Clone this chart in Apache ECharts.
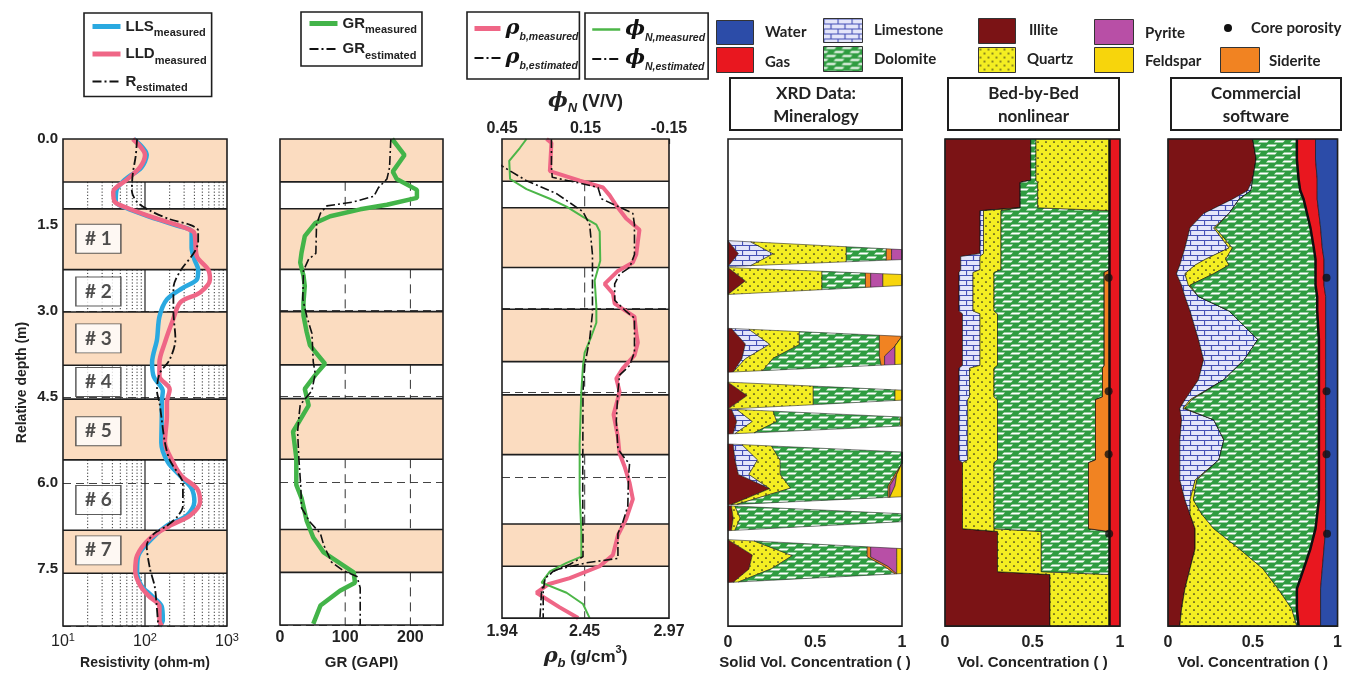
<!DOCTYPE html>
<html>
<head>
<meta charset="utf-8">
<script src="https://cdn.jsdelivr.net/npm/echarts@6/dist/echarts.min.js"></script>
<style>
  html, body { margin: 0; padding: 0; background: #ffffff; }
  #chart { width: 1345px; height: 675px; }
</style>
</head>
<body>
<div id="chart"></div>
<script>
// ---------------- depth axis and beds ----------------
const depthMax = 8.5;
const depthStep = 1.5;
const shadedBedTops    = [0.00, 1.22, 3.02, 4.54, 6.83];
const shadedBedBottoms = [0.75, 2.28, 3.95, 5.60, 7.58];
const bedNames = ['# 1', '# 2', '# 3', '# 4', '# 5', '# 6', '# 7'];
const bedLabelDepths = [1.74, 2.66, 3.48, 4.24, 5.10, 6.30, 7.18];
const bedLabelResistivity = 27;

// ---------------- tick labels and grid lines ----------------
const resistivityTicks = [10, 100, 1000];
const resistivityMinorGrid = [20, 30, 40, 50, 60, 70, 80, 90, 200, 300, 400, 500, 600, 700, 800, 900];
const resistivityMajorGrid = [100];
const grGrid = [100, 200];
const rhoTicks = [1.94, 2.45, 2.97];
const rhoGrid = [2.45];
const phiTicks = [0.45, 0.15, -0.15];
const fractionTicks = [0, 0.5, 1];

// ---------------- log curves: [depth (m), value] ----------------
const llsMeasured = [[0,73],[0.28,105],[0.5,90],[0.7,58],[0.89,45],[1.1,44],[1.2,58],[1.35,110],[1.5,230],[1.62,370],[1.9,370],[2.1,400],[2.28,445],[2.45,430],[2.6,290],[2.8,185],[3.1,150],[3.5,140],[3.9,122],[4.15,128],[4.4,165],[4.6,160],[4.83,160],[5.3,158],[5.64,190],[5.88,270],[6.1,370],[6.33,400],[6.57,325],[6.75,185],[6.97,122],[7.27,83],[7.55,80],[7.79,90],[7.97,120],[8.16,160],[8.4,165],[8.5,150]];
const lldMeasured = [[0,71],[0.28,100],[0.49,87],[0.71,60],[0.92,41],[1.1,43],[1.2,60],[1.35,115],[1.5,245],[1.62,390],[1.76,410],[2.05,430],[2.28,590],[2.45,620],[2.68,470],[2.85,270],[3.15,220],[3.55,175],[3.9,150],[4.14,150],[4.37,200],[4.6,185],[4.83,185],[5.29,175],[5.64,220],[5.88,280],[6.1,430],[6.33,470],[6.57,355],[6.75,200],[6.97,115],[7.27,80],[7.55,76],[7.79,87],[7.97,110],[8.16,150],[8.4,150],[8.5,160]];
const rEstimated = [[0,80],[0.3,77],[0.6,71],[0.9,69],[1.1,80],[1.25,115],[1.4,200],[1.5,355],[1.6,445],[1.8,445],[2.0,390],[2.3,270],[2.6,222],[3.0,222],[3.5,235],[3.85,200],[4.1,150],[4.4,140],[4.6,150],[4.9,160],[5.3,175],[5.6,200],[5.9,270],[6.0,290],[6.4,290],[6.6,245],[6.75,185],[6.9,126],[7.1,105],[7.5,115],[7.8,131],[8.1,138],[8.5,145]];

const grMeasured = [[0,172],[0.28,191],[0.57,173],[0.7,179],[0.89,210],[1.03,210],[1.15,164],[1.23,123],[1.35,77],[1.47,54],[1.7,38],[1.99,33],[2.16,31],[2.39,36],[2.57,38],[2.86,36],[3.09,36],[3.38,41],[3.61,46],[3.93,69],[4.13,54],[4.37,38],[4.66,44],[5.12,20],[5.58,25],[6.05,25],[6.28,33],[6.68,41],[6.97,51],[7.23,67],[7.58,113],[7.76,115],[7.9,92],[8.16,62],[8.48,51]];
const grEstimated = [[0,170],[0.5,168],[0.7,164],[0.85,151],[1.0,144],[1.1,113],[1.17,72],[1.3,62],[1.5,56],[2.0,55],[2.1,44],[2.3,36],[2.8,35],[3.1,41],[3.4,49],[3.9,51],[4.1,54],[4.4,49],[4.65,31],[4.75,30],[5.12,27],[5.6,29],[6.1,32],[6.45,33],[6.7,46],[6.9,62],[7.1,67],[7.4,79],[7.55,97],[7.65,118],[7.85,123],[8.5,123]];

const rhoMeasured = [[0,2.215],[0.07,2.245],[0.57,2.235],[0.74,2.42],[0.86,2.563],[1.0,2.604],[1.18,2.645],[1.41,2.706],[1.61,2.788],[1.82,2.778],[2.05,2.768],[2.19,2.747],[2.34,2.655],[2.57,2.573],[2.74,2.624],[2.92,2.635],[3.15,2.757],[3.44,2.768],[3.61,2.778],[3.84,2.757],[4.07,2.685],[4.25,2.645],[4.48,2.665],[4.6,2.655],[4.89,2.628],[5.29,2.655],[5.58,2.665],[5.81,2.696],[6.1,2.727],[6.39,2.747],[6.74,2.706],[7.03,2.655],[7.38,2.624],[7.58,2.542],[7.79,2.358],[7.9,2.225],[8.05,2.153],[8.31,2.296],[8.5,2.41]];
const rhoEstimated = [[0,2.245],[0.5,2.245],[0.68,2.25],[0.77,2.40],[0.86,2.532],[1.06,2.553],[1.32,2.747],[1.52,2.757],[2.05,2.757],[2.28,2.727],[2.4,2.665],[2.57,2.635],[2.86,2.635],[3.06,2.706],[3.18,2.757],[3.78,2.757],[4.02,2.727],[4.19,2.665],[4.48,2.655],[5.0,2.645],[5.5,2.655],[5.7,2.706],[5.75,2.727],[6.0,2.72],[6.51,2.716],[6.8,2.685],[7.0,2.655],[7.44,2.655],[7.52,2.46],[7.64,2.276],[7.79,2.204],[8.02,2.184],[8.5,2.174]];
const phiMeasured = [[0,0.362],[0.16,0.386],[0.39,0.424],[0.71,0.421],[0.89,0.362],[1.06,0.278],[1.2,0.218],[1.38,0.159],[1.52,0.111],[1.64,0.099],[2.16,0.097],[2.51,0.117],[2.97,0.111],[3.26,0.111],[3.5,0.129],[3.79,0.153],[4.02,0.159],[4.48,0.165],[5.41,0.171],[6.28,0.171],[6.97,0.165],[7.41,0.165],[7.52,0.218],[7.67,0.278],[7.87,0.308],[8.05,0.218],[8.25,0.159],[8.5,0.135]];
const phiEstimated = [[0.4,0.47],[0.48,0.45],[0.74,0.362],[0.97,0.254],[1.29,0.159],[1.52,0.135],[2.05,0.125],[3.09,0.125],[3.55,0.135],[4.02,0.153],[4.48,0.159],[6.28,0.16],[7.15,0.159],[7.41,0.159],[7.55,0.207],[7.67,0.266],[7.79,0.295],[8.02,0.302],[8.5,0.302]];

// ---------------- XRD samples ----------------
// wedge outline depths: top edge at fraction 0 / 1, bottom edge at fraction 0 / 1
const xrdTopLeft     = [1.774, 2.243, 3.304, 4.243, 4.713, 5.322, 6.400, 6.991];
const xrdTopRight    = [1.930, 2.365, 3.443, 4.383, 4.852, 5.461, 6.539, 7.148];
const xrdBottomLeft  = [2.226, 2.713, 4.070, 4.713, 5.148, 6.383, 6.835, 7.739];
const xrdBottomRight = [2.104, 2.557, 3.930, 4.557, 5.009, 6.243, 6.678, 7.583];
const xrdMinerals = ['illite', 'limestone', 'quartz', 'dolomite', 'siderite', 'pyrite', 'feldspar'];
// rows: [position within wedge 0..1, illite, limestone, quartz, dolomite, siderite, pyrite, feldspar]
const xrdRows = [
  [[0, 0,0.13,0.55,0.23,0.03,0.06,0], [0.5, 0.06,0.20,0.42,0.23,0.03,0.06,0], [1, 0,0.13,0.55,0.23,0.03,0.06,0]],
  [[0, 0,0,0.54,0.25,0.03,0.07,0.11], [0.5, 0.10,0,0.44,0.25,0.03,0.07,0.11], [1, 0,0,0.54,0.25,0.03,0.07,0.11]],
  [[0, 0.02,0.10,0.29,0.46,0.13,0,0], [0.35, 0.10,0.14,0.17,0.46,0.09,0,0.04], [0.7, 0.08,0.02,0.16,0.61,0.03,0.06,0.04], [1, 0.03,0,0.17,0.68,0.02,0.06,0.04]],
  [[0, 0,0,0.49,0.47,0,0,0.04], [0.5, 0.11,0,0.38,0.47,0,0,0.04], [1, 0,0,0.49,0.47,0,0,0.04]],
  [[0, 0.02,0.03,0.21,0.73,0,0,0.01], [0.5, 0.05,0.09,0.14,0.71,0,0,0.01], [1, 0.03,0.01,0.11,0.84,0,0,0.01]],
  [[0, 0.03,0.05,0.17,0.75,0,0,0], [0.25, 0.04,0.13,0.13,0.70,0,0,0], [0.5, 0.06,0.06,0.18,0.66,0.01,0,0.03], [0.75, 0.24,0,0.12,0.56,0.01,0.03,0.04], [1, 0.02,0,0.03,0.87,0.01,0,0.07]],
  [[0, 0.02,0,0.02,0.96,0,0,0], [0.5, 0.03,0,0.04,0.93,0,0,0], [1, 0.02,0,0.02,0.96,0,0,0]],
  [[0, 0,0,0.15,0.65,0.02,0.15,0.03], [0.35, 0.14,0,0.23,0.43,0.02,0.15,0.03], [0.7, 0.12,0,0.13,0.65,0.02,0.05,0.03], [1, 0.03,0,0.03,0.90,0.01,0,0.03]]
];

// ---------------- bed-by-bed nonlinear volumes ----------------
const bbbDepth     = [0, 0.72, 0.76, 1.2, 1.25, 2.0, 2.05, 2.28, 2.33, 3.0, 3.05, 3.95, 4.0, 4.5, 4.55, 5.6, 5.65, 6.8, 6.85, 7.55, 7.6, 8.5];
const bbbIllite    = [.49,.49,.43,.43,.20,.20,.09,.09,.08,.08,.10,.10,.08,.08,.08,.08,.10,.10,.30,.30,.60,.60];
const bbbLimestone = [0,0,0,0,.02,.02,.11,.11,.08,.08,.10,.10,.06,.06,.05,.05,0,0,0,0,0,0];
const bbbQuartz    = [0,0,0,0,.10,.10,.12,.12,.12,.12,.10,.10,.14,.14,.17,.17,.18,.18,.25,.25,.34,.34];
const bbbDolomite  = [.03,.03,.10,.10,.62,.62,.62,.62,.63,.63,.61,.61,.62,.62,.56,.56,.54,.54,.39,.39,0,0];
const bbbQuartzTop = [.42,.42,.41,.41,0,0,0,0,0,0,0,0,0,0,0,0,0,0,0,0,0,0];
const bbbSiderite  = [0,0,0,0,0,0,0,0,.03,.03,.03,.03,.04,.04,.08,.08,.12,.12,0,0,0,0];
const bbbGas       = [.06,.06,.06,.06,.06,.06,.06,.06,.06,.06,.06,.06,.06,.06,.06,.06,.06,.06,.06,.06,.06,.06];

// ---------------- commercial software volumes ----------------
const comDepth     = [0, 0.35, 0.7, 0.9, 1.05, 1.3, 1.55, 1.9, 2.1, 2.2, 2.35, 2.55, 2.75, 3.0, 3.5, 3.85, 4.2, 4.55, 4.7, 4.9, 5.25, 5.6, 5.95, 6.3, 6.55, 6.8, 7.15, 7.5, 7.85, 8.2, 8.5];
const comIllite    = [.50,.52,.50,.47,.38,.21,.13,.10,.08,.07,.05,.08,.10,.13,.18,.21,.18,.10,.07,.08,.07,.07,.07,.10,.13,.16,.16,.13,.10,.08,.07];
const comLimestone = [0,0,0,.02,.04,.15,.14,.26,.14,.09,.05,.04,.08,.23,.35,.24,.15,.03,.02,.19,.26,.23,.09,.03,0,0,0,0,0,0,0];
const comQuartz    = [0,0,0,0,0,0,.01,.02,.12,.20,.17,.01,0,0,0,0,0,.01,.01,0,0,0,.01,.02,.07,.11,.26,.43,.55,.65,.69];
const comDolomite  = [.26,.24,.27,.29,.38,.46,.56,.48,.53,.51,.60,.74,.70,.52,.36,.44,.56,.75,.79,.62,.56,.59,.72,.74,.68,.60,.42,.24,.11,.03,.01];
const comGas       = [.11,.11,.11,.10,.08,.07,.06,.05,.05,.05,.05,.05,.05,.05,.04,.04,.04,.04,.04,.04,.04,.04,.04,.04,.05,.06,.08,.11,.14,.14,.13];
const comWater     = [.13,.13,.12,.12,.12,.11,.10,.09,.08,.08,.08,.08,.07,.07,.07,.07,.07,.07,.07,.07,.07,.07,.07,.07,.07,.07,.08,.09,.10,.10,.10];

// ---------------- core porosity ----------------
const coreDepth = [2.42, 4.40, 5.50, 6.89];
const corePorosity = [0.065, 0.065, 0.065, 0.062];

// ================= styling helpers =================
const FONT = 'Liberation Sans';
const LABEL_FONT = 'Lato';
const PEACH = '#fbdcc0';
const INK = '#1e1e1e';
const DASH_DOT = [9, 3, 2, 3];

function makePattern(w, h, draw) {
  const c = document.createElement('canvas');
  c.width = w; c.height = h;
  draw(c.getContext('2d'));
  return { image: c, repeat: 'repeat' };
}
const limestoneFill = makePattern(14, 10, g => {
  g.fillStyle = '#e4e6fa'; g.fillRect(0, 0, 14, 10);
  g.strokeStyle = '#4550b6'; g.lineWidth = 1.2;
  g.beginPath();
  g.moveTo(0, 0.5); g.lineTo(14, 0.5);
  g.moveTo(0, 5.5); g.lineTo(14, 5.5);
  g.moveTo(0.5, 0); g.lineTo(0.5, 5.5);
  g.moveTo(7.5, 5.5); g.lineTo(7.5, 10);
  g.stroke();
});
const dolomiteFill = makePattern(16, 8, g => {
  g.fillStyle = '#2f9c41'; g.fillRect(0, 0, 16, 8);
  g.fillStyle = '#ffffff';
  const bar = (x, y) => {
    g.beginPath();
    g.moveTo(x, y + 2.6); g.lineTo(x + 9, y + 2.6); g.lineTo(x + 11, y + 0.6); g.lineTo(x + 2, y + 0.6);
    g.closePath(); g.fill();
  };
  bar(2, 0); bar(-6, 4); bar(10, 4);
});
const quartzFill = makePattern(8, 8, g => {
  g.fillStyle = '#f4ee22'; g.fillRect(0, 0, 8, 8);
  g.fillStyle = '#222';
  g.beginPath(); g.arc(2, 2, 0.85, 0, Math.PI * 2); g.fill();
  g.beginPath(); g.arc(6, 6, 0.85, 0, Math.PI * 2); g.fill();
});
const FILL = {
  illite: '#7b1315', limestone: limestoneFill, quartz: quartzFill, dolomite: dolomiteFill,
  siderite: '#f18322', pyrite: '#b84fa6', feldspar: '#f7d50c', gas: '#e9171f', water: '#2c4ca8'
};

// ================= render helpers =================
function whiteIntervals() {
  const out = [];
  let prev = 0;
  shadedBedTops.forEach((t, k) => { if (t > prev) out.push([prev, t]); prev = shadedBedBottoms[k]; });
  if (prev < depthMax) out.push([prev, depthMax]);
  return out;
}

// Bed shading plus the log-grid lines visible only in the unshaded intervals.
function bedBackground(xRef, lineSets) {
  return function (params, api) {
    const cs = params.coordSys;
    const yOf = d => api.coord([xRef, d])[1];
    const kids = [];
    shadedBedTops.forEach((t, k) => {
      const y0 = yOf(t), y1 = yOf(shadedBedBottoms[k]);
      kids.push({ type: 'rect', shape: { x: cs.x, y: y0, width: cs.width, height: y1 - y0 }, style: { fill: PEACH } });
    });
    whiteIntervals().forEach(([a, b]) => {
      lineSets.forEach(set => {
        set.values.forEach(v => {
          const x = api.coord([v, a])[0];
          kids.push({ type: 'line', shape: { x1: x, y1: yOf(a), x2: x, y2: yOf(b) },
            style: { stroke: set.color, lineWidth: set.width, lineDash: set.dash } });
        });
      });
    });
    shadedBedTops.concat(shadedBedBottoms).forEach(d => {
      if (d > 0 && d < depthMax) {
        const y = yOf(d);
        kids.push({ type: 'line', shape: { x1: cs.x, y1: y, x2: cs.x + cs.width, y2: y }, style: { stroke: INK, lineWidth: 1.6 } });
      }
    });
    return { type: 'group', children: kids };
  };
}

// Stacked volumetric profile: each data item is one component drawn as a polygon.
function profileRenderer(depths, comps) {
  const n = depths.length;
  const bounds = [];
  let run = new Array(n).fill(0);
  bounds.push(run.slice());
  comps.forEach(c => { run = run.map((r, i) => r + c.values[i]); bounds.push(run.slice()); });
  return function (params, api) {
    const k = params.dataIndex;
    if (comps[k].values.every(v => v <= 0)) return { type: 'group', children: [] };
    const pts = [];
    for (let i = 0; i < n; i++) pts.push(api.coord([bounds[k + 1][i], depths[i]]));
    for (let i = n - 1; i >= 0; i--) pts.push(api.coord([bounds[k][i], depths[i]]));
    return { type: 'polygon', shape: { points: pts },
      style: { fill: FILL[comps[k].mineral], stroke: 'rgba(20,20,20,0.75)', lineWidth: 0.8 } };
  };
}
function solidEdge(depths, solids) {
  return depths.map((d, i) => [solids.reduce((s, arr) => s + arr[i], 0), d]);
}

// XRD sample wedges: each data item is one sample, drawn as stacked polygons.
function xrdRenderer(params, api) {
  const w = params.dataIndex;
  const rows = xrdRows[w];
  const depthAt = (c, t) => {
    const top = xrdTopLeft[w] + (xrdTopRight[w] - xrdTopLeft[w]) * c;
    const bot = xrdBottomLeft[w] + (xrdBottomRight[w] - xrdBottomLeft[w]) * c;
    return top + (bot - top) * t;
  };
  const kids = [];
  xrdMinerals.forEach((m, k) => {
    if (rows.every(r => r[k + 1] <= 0)) return;
    const right = [], left = [];
    rows.forEach(r => {
      let before = 0;
      for (let j = 0; j < k; j++) before += r[j + 1];
      const after = before + r[k + 1];
      right.push(api.coord([after, depthAt(after, r[0])]));
      left.push(api.coord([before, depthAt(before, r[0])]));
    });
    kids.push({ type: 'polygon', shape: { points: right.concat(left.reverse()) },
      style: { fill: FILL[m], stroke: 'rgba(30,30,30,0.7)', lineWidth: 0.8 } });
  });
  return { type: 'group', children: kids };
}

// ================= layout =================
const trackLeft  = [63, 280, 502, 728, 945, 1168];
const trackWidth = [164, 163, 167, 174, 175, 171];
const TOP = 139, HEIGHT = 489;

const grids = trackLeft.map((l, i) => ({
  left: l, width: trackWidth[i], top: TOP, height: HEIGHT,
  show: true, z: 10, backgroundColor: 'transparent', borderColor: INK, borderWidth: 1.6
}));

const tickText = { fontFamily: FONT, fontWeight: 'bold', fontSize: 16, color: '#222' };
const nameText = { fontFamily: FONT, fontWeight: 'bold', fontSize: 14, color: '#222' };

const yAxes = trackLeft.map((_, i) => ({
  type: 'value', gridIndex: i, inverse: true, min: 0, max: depthMax, interval: depthStep,
  axisLine: { show: false }, axisTick: { show: false },
  axisLabel: i === 0
    ? Object.assign({ show: true, margin: 5, showMaxLabel: false, formatter: v => v.toFixed(1) }, tickText, { fontSize: 15 })
    : { show: false },
  splitLine: i < 3 ? { show: true, lineStyle: { color: '#444', type: [8, 5], width: 1 } } : { show: false },
  name: i === 0 ? 'Relative depth (m)' : '',
  nameLocation: 'middle', nameGap: 34, nameRotate: 90,
  nameTextStyle: Object.assign({}, nameText, { fontSize: 14 })
}));

const fracAxis = (gi, name) => ({
  type: 'value', gridIndex: gi, min: 0, max: 1,
  axisLine: { show: false }, axisTick: { show: false }, splitLine: { show: false },
  axisLabel: Object.assign({ margin: 8, customValues: fractionTicks, formatter: v => String(v) }, tickText),
  name, nameLocation: 'middle', nameGap: 25,
  nameTextStyle: Object.assign({}, nameText, { fontSize: 15 })
});

const xAxes = [
  { type: 'log', logBase: 10, gridIndex: 0, min: 10, max: 1000,
    axisLine: { show: false }, axisTick: { show: false }, splitLine: { show: false }, minorSplitLine: { show: false },
    axisLabel: { margin: 6, customValues: resistivityTicks,
      formatter: v => '{b|10}{p|' + Math.round(Math.log10(v)) + '}',
      rich: { b: { fontFamily: FONT, fontSize: 16, color: '#222', lineHeight: 20 },
              p: { fontFamily: FONT, fontSize: 11, color: '#222', lineHeight: 11, verticalAlign: 'top' } } },
    name: 'Resistivity (ohm-m)', nameLocation: 'middle', nameGap: 30, nameTextStyle: nameText },
  { type: 'value', gridIndex: 1, min: 0, max: 250, interval: 100,
    axisLine: { show: false }, axisTick: { show: false }, splitLine: { show: false },
    axisLabel: Object.assign({ margin: 5, showMaxLabel: false }, tickText),
    name: 'GR (GAPI)', nameLocation: 'middle', nameGap: 30, nameTextStyle: Object.assign({}, nameText, { fontSize: 15 }) },
  { type: 'value', gridIndex: 2, min: 1.94, max: 2.97,
    axisLine: { show: false }, axisTick: { show: false }, splitLine: { show: false },
    axisLabel: Object.assign({ margin: 5, customValues: rhoTicks, formatter: v => v.toFixed(2) }, tickText),
    name: '{g|ρ}{s|b}{t| (g/cm}{u|3}{t|)}', nameLocation: 'middle', nameGap: 24,
    nameTextStyle: { rich: {
      g: { fontFamily: 'DejaVu Serif', fontStyle: 'italic', fontWeight: 'bold', fontSize: 21, color: '#222', lineHeight: 26 },
      s: { fontFamily: FONT, fontStyle: 'italic', fontWeight: 'bold', fontSize: 13, color: '#222', lineHeight: 13, verticalAlign: 'bottom' },
      t: { fontFamily: FONT, fontWeight: 'bold', fontSize: 17, color: '#222', lineHeight: 26 },
      u: { fontFamily: FONT, fontWeight: 'bold', fontSize: 11, color: '#222', lineHeight: 11, verticalAlign: 'top' } } } },
  { type: 'value', gridIndex: 2, position: 'top', inverse: true, min: -0.15, max: 0.45,
    axisLine: { show: false }, splitLine: { show: false },
    axisTick: { show: true, inside: true, length: 5, customValues: phiTicks, lineStyle: { color: INK, width: 1.2 } },
    axisLabel: Object.assign({ margin: 2, customValues: phiTicks, formatter: v => v.toFixed(2) }, tickText),
    name: '{g|ϕ}{s|N}{t| (V/V)}', nameLocation: 'middle', nameGap: 24,
    nameTextStyle: { rich: {
      g: { fontFamily: 'DejaVu Serif', fontStyle: 'italic', fontWeight: 'bold', fontSize: 21, color: '#222', lineHeight: 26 },
      s: { fontFamily: FONT, fontStyle: 'italic', fontWeight: 'bold', fontSize: 13, color: '#222', lineHeight: 13, verticalAlign: 'bottom' },
      t: { fontFamily: FONT, fontWeight: 'bold', fontSize: 18, color: '#222', lineHeight: 26 } } } },
  fracAxis(3, 'Solid Vol. Concentration ( )'),
  fracAxis(4, 'Vol. Concentration ( )'),
  fracAxis(5, 'Vol. Concentration ( )')
];

// ================= legends =================
const legendLabels = {
  'LLS measured': '{m|LLS}{s|measured}',
  'LLD measured': '{m|LLD}{s|measured}',
  'R estimated': '{m|R}{s|estimated}',
  'GR measured': '{m|GR}{s|measured}',
  'GR estimated': '{m|GR}{s|estimated}',
  'ρb measured': '{g|ρ}{gs|b,measured}',
  'ρb estimated': '{g|ρ}{gs|b,estimated}',
  'ϕN measured': '{g|ϕ}{gs|N,measured}',
  'ϕN estimated': '{g|ϕ}{gs|N,estimated}'
};
const legendRich = {
  m: { fontFamily: FONT, fontWeight: 'bold', fontSize: 15, lineHeight: 24, color: '#222' },
  s: { fontFamily: FONT, fontWeight: 'bold', fontSize: 11, lineHeight: 11, verticalAlign: 'bottom', color: '#222' },
  g: { fontFamily: 'DejaVu Serif', fontWeight: 'bold', fontStyle: 'italic', fontSize: 21, lineHeight: 28, color: '#111' },
  gs: { fontFamily: FONT, fontWeight: 'bold', fontStyle: 'italic', fontSize: 10.5, lineHeight: 11, verticalAlign: 'bottom', color: '#222' }
};
const legendBase = {
  orient: 'vertical', backgroundColor: '#ffffff', borderColor: INK, borderWidth: 1.6, borderRadius: 0,
  itemWidth: 28, itemHeight: 12, itemGap: 3, selectedMode: false,
  itemStyle: { opacity: 0 },
  textStyle: { color: '#222', rich: legendRich }, formatter: n => legendLabels[n]
};
const dashed = name => ({ name, lineStyle: { type: DASH_DOT, width: 1.8 } });
const solid = (name, width) => ({ name, lineStyle: { type: 'solid', width } });
const legends = [
  Object.assign({}, legendBase, { left: 84, top: 13, padding: [6, 5, 3, 6], itemGap: 8,
    data: [solid('LLS measured', 5), solid('LLD measured', 5), dashed('R estimated')] }),
  Object.assign({}, legendBase, { left: 301, top: 12, padding: [4, 5, 5, 6], itemGap: 6,
    data: [solid('GR measured', 5), dashed('GR estimated')] }),
  Object.assign({}, legendBase, { left: 467, top: 12, padding: [6, 1, 7, 5], itemGap: 5, itemWidth: 26,
    data: [solid('ρb measured', 5), dashed('ρb estimated')] }),
  Object.assign({}, legendBase, { left: 585, top: 13, padding: [6, 3, 6, 6], itemGap: 5,
    data: [solid('ϕN measured', 2.5), dashed('ϕN estimated')] })
];

// ================= mineral legend and track titles =================
const swatches = [
  { label: 'Water', fill: FILL.water, x: 716, y: 20, w: 37, h: 24, tx: 765, ty: 32 },
  { label: 'Gas', fill: FILL.gas, x: 716, y: 47, w: 37, h: 25, tx: 765, ty: 62 },
  { label: 'Limestone', fill: FILL.limestone, x: 823, y: 18, w: 39, h: 24, tx: 874, ty: 30 },
  { label: 'Dolomite', fill: FILL.dolomite, x: 823, y: 46, w: 39, h: 25, tx: 874, ty: 59 },
  { label: 'Illite', fill: FILL.illite, x: 978, y: 18, w: 37, h: 25, tx: 1029, ty: 30 },
  { label: 'Quartz', fill: FILL.quartz, x: 978, y: 47, w: 37, h: 25, tx: 1027, ty: 59 },
  { label: 'Pyrite', fill: FILL.pyrite, x: 1094, y: 19, w: 39, h: 25, tx: 1145, ty: 33 },
  { label: 'Feldspar', fill: FILL.feldspar, x: 1094, y: 47, w: 39, h: 25, tx: 1145, ty: 61 },
  { label: 'Siderite', fill: FILL.siderite, x: 1220, y: 47, w: 39, h: 25, tx: 1269, ty: 61 }
];
const legendText = { fontFamily: LABEL_FONT, fontWeight: 'bold', fontSize: 15, fill: '#222' };
const graphics = [];
swatches.forEach(s => {
  graphics.push({ type: 'rect', left: s.x, top: s.y, shape: { width: s.w, height: s.h },
    style: { fill: s.fill, stroke: '#333', lineWidth: 1 } });
  graphics.push({ type: 'text', x: s.tx, y: s.ty,
    style: Object.assign({ text: s.label, verticalAlign: 'middle' }, legendText) });
});
graphics.push({ type: 'circle', shape: { cx: 1228, cy: 28, r: 4 }, style: { fill: '#111' } });
graphics.push({ type: 'text', x: 1251, y: 28,
  style: Object.assign({ text: 'Core porosity', verticalAlign: 'middle' }, legendText) });

const titleBoxes = [
  { x: 730, w: 172, text: 'XRD Data:\nMineralogy' },
  { x: 948, w: 171, text: 'Bed-by-Bed\nnonlinear' },
  { x: 1171, w: 170, text: 'Commercial\nsoftware' }
];
titleBoxes.forEach(b => {
  graphics.push({ type: 'rect', shape: { x: b.x, y: 78, width: b.w, height: 52 },
    style: { fill: '#fff', stroke: INK, lineWidth: 2 } });
  graphics.push({ type: 'text', x: b.x + b.w / 2, y: 105,
    style: { text: b.text, align: 'center', verticalAlign: 'middle', lineHeight: 23,
      fontFamily: LABEL_FONT, fontWeight: 'bold', fontSize: 17, fill: '#222' } });
});

// ================= series =================
const flip = arr => arr.map(([d, v]) => [v, d]);
const curve = (name, xi, yi, data, color, width, dash, smooth) => ({
  name, type: 'line', xAxisIndex: xi, yAxisIndex: yi, data: flip(data),
  symbol: 'none', smooth: smooth || false, z: 3, silent: true,
  lineStyle: { color, width, type: dash || 'solid' }, itemStyle: { color }
});

const bbbComps = [
  { mineral: 'illite', values: bbbIllite }, { mineral: 'limestone', values: bbbLimestone },
  { mineral: 'quartz', values: bbbQuartz }, { mineral: 'dolomite', values: bbbDolomite },
  { mineral: 'quartz', values: bbbQuartzTop }, { mineral: 'siderite', values: bbbSiderite },
  { mineral: 'gas', values: bbbGas }
];
const comComps = [
  { mineral: 'illite', values: comIllite }, { mineral: 'limestone', values: comLimestone },
  { mineral: 'quartz', values: comQuartz }, { mineral: 'dolomite', values: comDolomite },
  { mineral: 'gas', values: comGas }, { mineral: 'water', values: comWater }
];
const placeholder = n => Array.from({ length: n }, () => [0.5, 4]);

const series = [
  { type: 'custom', xAxisIndex: 0, yAxisIndex: 0, z: 1, silent: true, data: [[10, 0]],
    renderItem: bedBackground(10, [
      { values: resistivityMinorGrid, color: '#333', width: 1, dash: [1.2, 2] },
      { values: resistivityMajorGrid, color: '#222', width: 1.2, dash: null }]) },
  { type: 'custom', xAxisIndex: 1, yAxisIndex: 1, z: 1, silent: true, data: [[0, 0]],
    renderItem: bedBackground(0, [{ values: grGrid, color: '#333', width: 1, dash: [9, 6] }]) },
  { type: 'custom', xAxisIndex: 2, yAxisIndex: 2, z: 1, silent: true, data: [[2, 0]],
    renderItem: bedBackground(2, [{ values: rhoGrid, color: '#333', width: 1, dash: [10, 5] }]) },

  curve('LLS measured', 0, 0, llsMeasured, '#2aa9e0', 4.5, null, 0.3),
  curve('LLD measured', 0, 0, lldMeasured, '#ef6686', 4.5, null, 0.3),
  curve('R estimated', 0, 0, rEstimated, '#111', 1.8, DASH_DOT, 0.3),
  { type: 'scatter', xAxisIndex: 0, yAxisIndex: 0, z: 5, silent: true,
    data: bedLabelDepths.map(d => [bedLabelResistivity, d]),
    symbol: 'rect', symbolSize: [45, 29],
    itemStyle: { color: '#ffffff', borderColor: '#333', borderWidth: 1.2 },
    label: { show: true, position: 'inside', formatter: p => bedNames[p.dataIndex],
      fontFamily: LABEL_FONT, fontWeight: 'bold', fontSize: 19, color: '#222' } },

  curve('GR measured', 1, 1, grMeasured, '#43b449', 4.5),
  curve('GR estimated', 1, 1, grEstimated, '#111', 1.6, DASH_DOT),

  curve('ρb measured', 2, 2, rhoMeasured, '#ef6686', 4),
  curve('ρb estimated', 2, 2, rhoEstimated, '#111', 1.6, DASH_DOT),
  curve('ϕN measured', 3, 2, phiMeasured, '#4cb648', 2),
  curve('ϕN estimated', 3, 2, phiEstimated, '#111', 1.6, DASH_DOT),

  { type: 'custom', xAxisIndex: 4, yAxisIndex: 3, z: 2, silent: true,
    data: placeholder(xrdRows.length), renderItem: xrdRenderer },

  { type: 'custom', xAxisIndex: 5, yAxisIndex: 4, z: 2, silent: true,
    data: placeholder(bbbComps.length), renderItem: profileRenderer(bbbDepth, bbbComps) },
  { type: 'line', xAxisIndex: 5, yAxisIndex: 4, z: 3, silent: true, symbol: 'none',
    data: solidEdge(bbbDepth, [bbbIllite, bbbLimestone, bbbQuartz, bbbDolomite, bbbQuartzTop, bbbSiderite]),
    lineStyle: { color: '#111', width: 2.5 } },
  { type: 'scatter', xAxisIndex: 5, yAxisIndex: 4, z: 4, silent: true, symbolSize: 8,
    data: coreDepth.map((d, i) => [1 - corePorosity[i], d]), itemStyle: { color: '#111' } },

  { type: 'custom', xAxisIndex: 6, yAxisIndex: 5, z: 2, silent: true,
    data: placeholder(comComps.length), renderItem: profileRenderer(comDepth, comComps) },
  { type: 'line', xAxisIndex: 6, yAxisIndex: 5, z: 3, silent: true, symbol: 'none',
    data: solidEdge(comDepth, [comIllite, comLimestone, comQuartz, comDolomite]),
    lineStyle: { color: '#111', width: 2.5 } },
  { type: 'scatter', xAxisIndex: 6, yAxisIndex: 5, z: 4, silent: true, symbolSize: 8,
    data: coreDepth.map((d, i) => [1 - corePorosity[i], d]), itemStyle: { color: '#111' } }
];

const chart = echarts.init(document.getElementById('chart'), null, { renderer: 'canvas' });
chart.setOption({
  animation: false,
  backgroundColor: '#ffffff',
  grid: grids,
  xAxis: xAxes,
  yAxis: yAxes,
  legend: legends,
  graphic: graphics,
  series
});
</script>
</body>
</html>
